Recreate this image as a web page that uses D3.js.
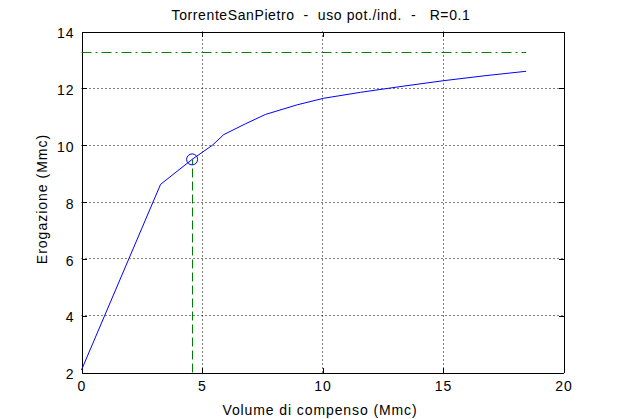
<!DOCTYPE html>
<html><head><meta charset="utf-8">
<script src="https://cdn.jsdelivr.net/npm/d3@7"></script>
<style>body{margin:0;background:#fff}svg{display:block}text{font-family:"Liberation Sans",Arial,sans-serif;white-space:pre}</style>
</head><body>
<svg id="c" width="623" height="419"></svg>
<script>
const curveX = [0, 3.28, 4.59, 5.42, 5.9, 6.8, 7.63, 8.95, 10.05, 11.58, 13.3, 15.03, 16.7, 18.45];
const curveY = [2.09, 8.62, 9.5, 9.99, 10.37, 10.75, 11.08, 11.42, 11.65, 11.86, 12.07, 12.27, 12.44, 12.6];
const targetY = 13.25;
const pointX = [4.59];
const pointY = [9.5];
const xTicks = [0, 5, 10, 15, 20];
const yTicks = [2, 4, 6, 8, 10, 12, 14];
const title = "TorrenteSanPietro  -  uso pot./ind.  -   R=0.1";
const xLabel = "Volume di compenso (Mmc)";
const yLabel = "Erogazione (Mmc)";

const svg = d3.select("#c");
const L = 81.5, R = 563.5, T = 31.5, B = 372.5;
const x = d3.scaleLinear().domain([0, 20]).range([L, R]);
const y = d3.scaleLinear().domain([2, 14]).range([B, T]);
const px = v => Math.round(x(v) - 0.5) + 0.5;
const py = v => Math.round(y(v) - 0.5) + 0.5;

// grid
const g = svg.append("g");
xTicks.slice(1, -1).forEach(v => g.append("line").attr("x1", px(v)).attr("x2", px(v)).attr("y1", T).attr("y2", B)
  .attr("stroke", "#000").attr("stroke-width", 1).attr("stroke-dasharray", "1,3"));
yTicks.slice(1, -1).forEach(v => g.append("line").attr("x1", L).attr("x2", R).attr("y1", py(v)).attr("y2", py(v))
  .attr("stroke", "#000").attr("stroke-width", 1).attr("stroke-dasharray", "1,3"));

// axes
const fs = "14px";
const ax = svg.append("g").attr("transform", `translate(0,${B})`)
  .call(d3.axisBottom(x).tickValues(xTicks).tickSizeInner(-5).tickSizeOuter(0).tickPadding(9));
const ay = svg.append("g").attr("transform", `translate(${L},0)`)
  .call(d3.axisLeft(y).tickValues(yTicks).tickSizeInner(-5).tickSizeOuter(0).tickPadding(7));
const axT = svg.append("g").attr("transform", `translate(0,${T})`)
  .call(d3.axisTop(x).tickValues(xTicks).tickSizeInner(-5).tickSizeOuter(0).tickFormat(""));
const ayR = svg.append("g").attr("transform", `translate(${R},0)`)
  .call(d3.axisRight(y).tickValues(yTicks).tickSizeInner(-5).tickSizeOuter(0).tickFormat(""));
[ax, ay, axT, ayR].forEach(a => {
  a.attr("shape-rendering", "crispEdges");
  a.selectAll("text").attr("font-size", fs).attr("fill", "#000").attr("letter-spacing", "1px")
    .attr("font-family", '"Liberation Sans",Arial,sans-serif');
  a.selectAll("line,path").attr("stroke", "#000");
});
ay.selectAll("text").attr("dy", "0.45em");

// lines
const data = curveX.map((v, i) => [v, curveY[i]]);
const cp = svg.append("g");
cp.append("line").attr("x1", x(0)).attr("x2", x(curveX[curveX.length - 1])).attr("y1", py(targetY)).attr("y2", py(targetY))
  .attr("stroke", "#008000").attr("stroke-dasharray", "10,4,2,4");
cp.append("line").attr("x1", px(pointX[0])).attr("x2", px(pointX[0])).attr("y1", B).attr("y2", y(pointY[0]))
  .attr("stroke", "#008000").attr("stroke-dasharray", "9,4");
cp.append("path").datum(data).attr("d", d3.line().x(d => x(d[0])).y(d => y(d[1])))
  .attr("fill", "none").attr("stroke", "#0000ff").attr("stroke-width", 1);
cp.append("circle").attr("cx", x(pointX[0])).attr("cy", y(pointY[0])).attr("r", 5.5)
  .attr("fill", "none").attr("stroke", "#0000ff");

// text
svg.append("text").attr("x", 321).attr("y", 20).attr("text-anchor", "middle").attr("font-size", fs)
  .attr("letter-spacing", "0.6px").attr("xml:space", "preserve").text(title);
svg.append("text").attr("x", 320).attr("y", 415).attr("text-anchor", "middle").attr("font-size", fs)
  .attr("letter-spacing", "0.9px").text(xLabel);
svg.append("text").attr("transform", `translate(47,199) rotate(-90)`).attr("text-anchor", "middle").attr("font-size", fs)
  .attr("letter-spacing", "1px").text(yLabel);
</script>
</body></html>
